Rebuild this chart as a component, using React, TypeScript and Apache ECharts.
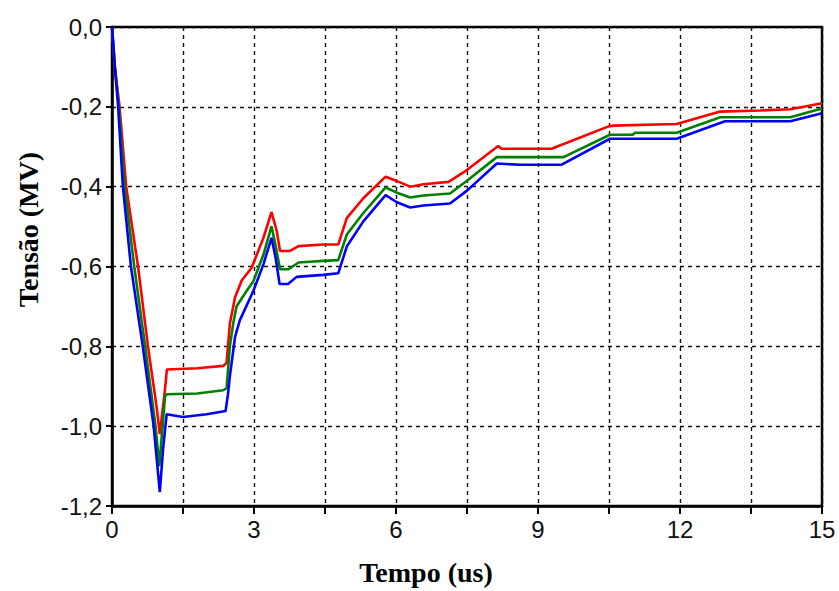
import React, { useEffect, useRef } from "react";
import * as echarts from "echarts";

const redT = [0, 0.06, 0.16, 0.30, 0.55, 0.76, 0.94, 1.01, 1.12, 1.16, 1.8, 2.35, 2.42, 2.49, 2.60, 2.74, 2.95, 3.20, 3.37, 3.48, 3.55, 3.76, 3.94, 4.46, 4.78, 4.96, 5.31, 5.78, 6.02, 6.30, 6.58, 7.11, 7.49, 8.16, 8.23, 9.29, 9.43, 9.61, 10.49, 10.6, 11.93, 12.85, 13.7, 14.33, 15];
const redV = [0, -0.10, -0.2, -0.4, -0.6, -0.8, -0.95, -1.02, -0.908, -0.858, -0.855, -0.849, -0.842, -0.743, -0.677, -0.635, -0.603, -0.528, -0.464, -0.511, -0.561, -0.561, -0.549, -0.545, -0.545, -0.479, -0.429, -0.375, -0.386, -0.40, -0.394, -0.388, -0.359, -0.298, -0.305, -0.305, -0.298, -0.29, -0.249, -0.247, -0.243, -0.212, -0.209, -0.206, -0.191];

const greenT = [0, 0.06, 0.145, 0.265, 0.47, 0.70, 0.92, 1.0, 1.12, 1.16, 1.8, 2.35, 2.42, 2.49, 2.56, 2.63, 2.85, 2.99, 3.20, 3.37, 3.46, 3.55, 3.73, 3.94, 4.46, 4.78, 4.96, 5.31, 5.78, 6.02, 6.30, 6.58, 7.14, 7.50, 8.13, 9.54, 10.52, 11.0, 11.05, 11.93, 12.85, 14.33, 15];
const greenV = [0, -0.10, -0.2, -0.4, -0.6, -0.8, -1.0, -1.10, -0.925, -0.92, -0.918, -0.91, -0.905, -0.80, -0.743, -0.70, -0.66, -0.636, -0.57, -0.499, -0.55, -0.607, -0.607, -0.59, -0.586, -0.584, -0.52, -0.466, -0.402, -0.415, -0.427, -0.422, -0.417, -0.385, -0.326, -0.326, -0.27, -0.27, -0.265, -0.265, -0.226, -0.226, -0.204];

const blueT = [0, 0.06, 0.13, 0.23, 0.40, 0.65, 0.88, 1.01, 1.08, 1.155, 1.5, 2.0, 2.4, 2.45, 2.49, 2.6, 2.7, 2.99, 3.2, 3.37, 3.46, 3.54, 3.72, 3.9, 4.46, 4.78, 4.96, 5.31, 5.78, 6.02, 6.30, 6.58, 7.14, 7.50, 8.13, 8.62, 9.5, 10.52, 11.93, 12.95, 14.33, 15];
const blueV = [0, -0.10, -0.2, -0.4, -0.6, -0.8, -1.0, -1.165, -1.056, -0.97, -0.977, -0.97, -0.962, -0.92, -0.875, -0.776, -0.735, -0.66, -0.594, -0.528, -0.58, -0.644, -0.644, -0.626, -0.621, -0.617, -0.55, -0.487, -0.421, -0.439, -0.452, -0.447, -0.442, -0.41, -0.342, -0.345, -0.345, -0.28, -0.28, -0.236, -0.236, -0.216];

const xTitle = "Tempo (us)";
const yTitle = "Tensão (MV)";

const zip = (t: number[], v: number[]) => t.map((x, i) => [x, v[i]]);

export default function App() {
  const ref = useRef<HTMLDivElement>(null);
  useEffect(() => {
    if (!ref.current) return;
    const chart = echarts.init(ref.current, null, { renderer: "svg" });
    const gridLine = { show: true, lineStyle: { color: "#111", type: [4, 4] as any, width: 1.4 } };
    chart.setOption({
      animation: false,
      backgroundColor: "#fff",
      grid: { left: 112, right: 17, top: 27, bottom: 80, show: true, borderColor: "#000", borderWidth: 2.5, backgroundColor: "transparent" },
      xAxis: {
        type: "value",
        min: 0,
        max: 15,
        interval: 1.5,
        name: xTitle,
        nameLocation: "middle",
        nameGap: 52,
        nameTextStyle: { fontFamily: "Liberation Serif", fontWeight: "bold", fontSize: 28, color: "#000", padding: [0, 82, 0, 0] },
        axisLine: { show: true, onZero: false, lineStyle: { color: "#000", width: 2.5 } },
        axisTick: { show: true, length: 8, lineStyle: { color: "#000", width: 2 } },
        axisLabel: {
          fontFamily: "Liberation Sans",
          fontSize: 24,
          color: "#111",
          margin: 11,
          formatter: (v: number) => (Math.abs(v % 3) < 1e-9 ? String(Math.round(v)) : ""),
        },
        splitLine: gridLine,
      },
      yAxis: {
        type: "value",
        min: -1.2,
        max: 0,
        interval: 0.2,
        name: yTitle,
        nameLocation: "middle",
        nameGap: 70,
        nameRotate: 90,
        nameTextStyle: { fontFamily: "Liberation Serif", fontWeight: "bold", fontSize: 28, color: "#000", padding: [0, 0, 0, 74] },
        axisLine: { show: true, onZero: false, lineStyle: { color: "#000", width: 2.5 } },
        axisTick: { show: true, length: 6, lineStyle: { color: "#000", width: 2 } },
        axisLabel: {
          fontFamily: "Liberation Sans",
          fontSize: 24,
          color: "#111",
          margin: 10,
          formatter: (v: number) => (Math.abs(v) < 1e-9 ? "0,0" : v.toFixed(1).replace(".", ",")),
        },
        splitLine: gridLine,
      },
      series: [
        { type: "line", name: "red", data: zip(redT, redV), showSymbol: false, lineStyle: { color: "#ff0000", width: 2.6 }, itemStyle: { color: "#ff0000" } },
        { type: "line", name: "green", data: zip(greenT, greenV), showSymbol: false, lineStyle: { color: "#008000", width: 2.6 }, itemStyle: { color: "#008000" } },
        { type: "line", name: "blue", data: zip(blueT, blueV), showSymbol: false, lineStyle: { color: "#0000ff", width: 2.6 }, itemStyle: { color: "#0000ff" } },
      ],
    });
    return () => chart.dispose();
  }, []);
  return <div ref={ref} style={{ width: 839, height: 591, position: "absolute", left: 0, top: 0 }} />;
}
